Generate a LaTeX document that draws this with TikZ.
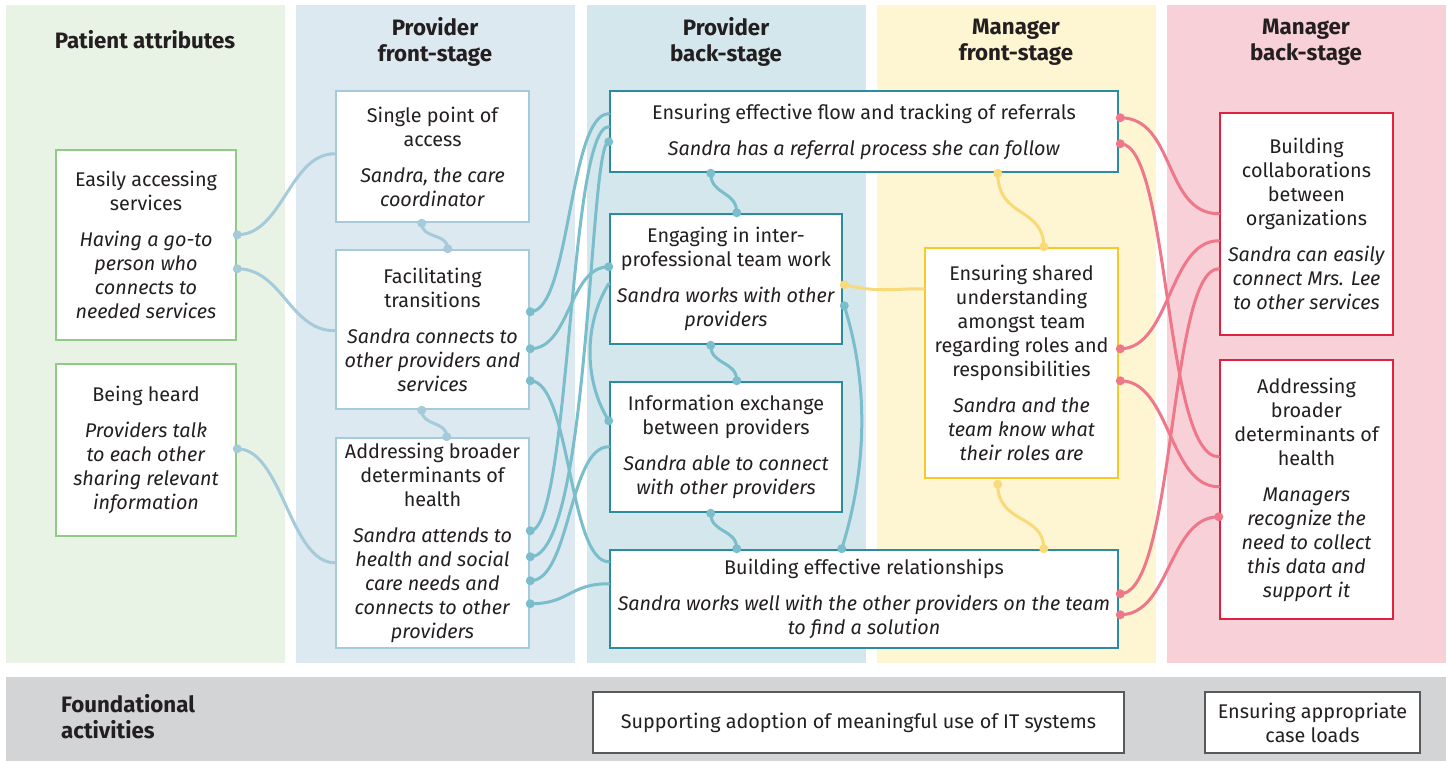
\documentclass[tikz,border=0pt]{standalone}
\usepackage{fontspec}
\setmainfont{Fira Sans}
\usetikzlibrary{calc}
\definecolor{bggreen}{HTML}{E8F3E5}
\definecolor{bgfront}{HTML}{DDE9F0}
\definecolor{bgback}{HTML}{D3E7ED}
\definecolor{bgmfront}{HTML}{FEF5D2}
\definecolor{bgmback}{HTML}{F8D0D7}
\definecolor{bggray}{HTML}{D3D4D6}
\definecolor{bdgreen}{HTML}{8FCB85}
\definecolor{bdfront}{HTML}{A5CADA}
\definecolor{bdback}{HTML}{2A8C9E}
\definecolor{bdmfront}{HTML}{F6C928}
\definecolor{bdmback}{HTML}{E0223F}
\definecolor{bdgray}{HTML}{58595B}
\definecolor{cnfront}{HTML}{A5CADA}
\definecolor{cnback}{HTML}{7ABDCB}
\definecolor{cnmfront}{HTML}{F8DB78}
\definecolor{cnmback}{HTML}{EE7789}
\definecolor{txt}{HTML}{231F20}
\newcommand{\bodyfnt}{\fontsize{19.8}{24}\selectfont}
\newcommand{\headfnt}{\fontsize{22.3}{26}\selectfont\bfseries}
\newcommand{\dotat}[2]{\fill[#1] (#2) circle[radius=4.5];}
\begin{document}
\begin{tikzpicture}[x=1pt,y=-1pt,
  box/.style={draw, line width=2.5pt, fill=white, align=center, inner sep=0pt, font=\bodyfnt, text=txt},
  head/.style={align=center, font=\headfnt, inner sep=0pt, text=txt},
  con/.style={line width=3pt, line cap=round},
]
\useasboundingbox (0,0) rectangle (1447,761);
\fill[white] (0,0) rectangle (1447,761);
% columns
\fill[bggreen] (6,5) rectangle (285,663);
\fill[bgfront] (296,5) rectangle (575,663);
\fill[bgback] (587,5) rectangle (866,663);
\fill[bgmfront] (877,5) rectangle (1156,663);
\fill[bgmback] (1167,5) rectangle (1446,663);
\fill[bggray] (6,677) rectangle (1446,761);
% headings
\node[head] (h1) at (145,40) {Patient attributes};
\node[head] (h2) at (435,42) {Provider\\front-stage};
\node[head] (h3) at (726,42) {Provider\\back-stage};
\node[head] (h4) at (1016,42) {Manager\\front-stage};
\node[head] (h5) at (1306,42) {Manager\\back-stage};
\node[head, align=left, anchor=west] (h6) at (61,717) {Foundational\\activities};
% patient boxes
\node[box, draw=bdgreen, minimum width=180, minimum height=190] (A1) at (146,245)
 {Easily accessing\\services\\[12pt]\textit{Having a go-to}\\\textit{person who}\\\textit{connects to}\\\textit{needed services}};
\node[box, draw=bdgreen, minimum width=180, minimum height=172] (A2) at (146,450)
 {Being heard\\[12pt]\textit{Providers talk}\\\textit{to each other}\\\textit{sharing relevant}\\\textit{information}};
% provider front
\node[box, draw=bdfront, minimum width=193, minimum height=131] (F1) at (432.5,156.5)
 {Single point of\\access\\[12pt]\textit{Sandra, the care}\\\textit{coordinator}};
\node[box, draw=bdfront, minimum width=193, minimum height=159] (F2) at (432.5,329.5)
 {Facilitating\\transitions\\[12pt]\textit{Sandra connects to}\\\textit{other providers and}\\\textit{services}};
\node[box, draw=bdfront, minimum width=193, minimum height=210] (F3) at (432.5,543)
 {Addressing broader\\determinants of\\health\\[12pt]\textit{Sandra attends to}\\\textit{health and social}\\\textit{care needs and}\\\textit{connects to other}\\\textit{providers}};
% provider back
\node[box, draw=bdback, minimum width=508, minimum height=81] (B1) at (864,131.5)
 {Ensuring effective flow and tracking of referrals\\[12pt]\textit{Sandra has a referral process she can follow}};
\node[box, draw=bdback, minimum width=232, minimum height=130] (B2) at (726,279)
 {Engaging in inter-\\professional team work\\[12pt]\textit{Sandra works with other}\\\textit{providers}};
\node[box, draw=bdback, minimum width=232, minimum height=130] (B3) at (726,447)
 {Information exchange\\between providers\\[12pt]\textit{Sandra able to connect}\\\textit{with other providers}};
\node[box, draw=bdback, minimum width=508, minimum height=98] (B4) at (864,599)
 {Building effective relationships\\[12pt]\textit{Sandra works well with the other providers on the team}\\\textit{to find a solution}};
% manager front
\node[box, draw=bdmfront, minimum width=193, minimum height=230] (M1) at (1021.5,363)
 {Ensuring shared\\understanding\\amongst team\\regarding roles and\\responsibilities\\[12pt]\textit{Sandra and the}\\\textit{team know what}\\\textit{their roles are}};
% manager back
\node[box, draw=bdmback, minimum width=173, minimum height=222] (R1) at (1306.5,224)
 {Building\\collaborations\\between\\organizations\\[12pt]\textit{Sandra can easily}\\\textit{connect Mrs. Lee}\\\textit{to other services}};
\node[box, draw=bdmback, minimum width=173, minimum height=259] (R2) at (1306.5,489.5)
 {Addressing\\broader\\determinants of\\health\\[12pt]\textit{Managers}\\\textit{recognize the}\\\textit{need to collect}\\\textit{this data and}\\\textit{support it}};
% foundational
\node[box, draw=bdgray, minimum width=531, minimum height=61] (S1) at (858.5,722.5)
 {Supporting adoption of meaningful use of IT systems};
\node[box, draw=bdgray, minimum width=215, minimum height=61] (S2) at (1312.5,722.5)
 {Ensuring appropriate\\case loads};

% ---------- connectors: patient -> provider front
\coordinate (pa1) at ($(A1.north east)+(0,86)$);
\coordinate (pa2) at ($(A1.north east)+(0,120)$);
\coordinate (pa3) at ($(A2.north east)+(0,86)$);
\coordinate (pf1) at ($(F1.north west)+(0,64)$);
\coordinate (pf2) at ($(F2.north west)+(0,82)$);
\coordinate (pf3) at ($(F3.north west)+(0,126)$);
\coordinate (f1b) at ($(F1.south west)+(87,0)$);
\coordinate (f2t) at ($(F2.north west)+(113,0)$);
\coordinate (f2b) at ($(F2.south west)+(87,0)$);
\coordinate (f3t) at ($(F3.north west)+(112,0)$);
\begin{scope}[cnfront]
\draw[con] (pa1) .. controls +(45,0) and +(-45,0) .. (pf1);
\draw[con] (pa2) .. controls +(45,0) and +(-45,0) .. (pf2);
\draw[con] (pa3) .. controls +(45,0) and +(-45,0) .. (pf3);
\draw[con] (f1b) .. controls +(0,16) and +(0,-16) .. (f2t);
\draw[con] (f2b) .. controls +(0,16) and +(0,-16) .. (f3t);
\dotat{cnfront}{pa1}\dotat{cnfront}{pa2}\dotat{cnfront}{pa3}
\dotat{cnfront}{f1b}\dotat{cnfront}{f2t}\dotat{cnfront}{f2b}\dotat{cnfront}{f3t}
\end{scope}

% ---------- connectors: provider front -> provider back
\coordinate (fa) at ($(F2.north east)+(0,63)$);
\coordinate (fb) at ($(F2.north east)+(0,100)$);
\coordinate (fc) at ($(F2.north east)+(0,132)$);
\coordinate (fd) at ($(F3.north east)+(0,94)$);
\coordinate (fe) at ($(F3.north east)+(0,120)$);
\coordinate (fg) at ($(F3.north east)+(0,144)$);
\coordinate (fh) at ($(F3.north east)+(0,167)$);
\coordinate (ba) at ($(B1.north west)+(0,24)$);
\coordinate (bd) at ($(B1.north west)+(0,37)$);
\coordinate (be) at ($(B1.north west)+(0,52)$);
\coordinate (bb) at ($(B2.north west)+(0,54)$);
\coordinate (bf) at ($(B2.north west)+(0,71)$);
\coordinate (bf2) at ($(B3.north west)+(0,40)$);
\coordinate (bg) at ($(B3.north west)+(0,66)$);
\coordinate (bc) at ($(B4.north west)+(0,13)$);
\coordinate (bh) at ($(B4.north west)+(0,35)$);
\coordinate (b1b) at ($(B1.south west)+(102,0)$);
\coordinate (b2t) at ($(B2.north west)+(128,0)$);
\coordinate (b2b) at ($(B2.south west)+(102,0)$);
\coordinate (b3t) at ($(B3.north west)+(128,0)$);
\coordinate (b3b) at ($(B3.south west)+(102,0)$);
\coordinate (b4t) at ($(B4.north west)+(128,0)$);
\coordinate (b2r) at ($(B2.north east)+(1,93)$);
\coordinate (b4t2) at ($(B4.north west)+(233,0)$);
\begin{scope}[cnback]
\draw[con] (fa) .. controls +(40,0) and +(-40,0) .. (ba);
\draw[con] (fb) .. controls +(40,0) and +(-40,0) .. (bb);
\draw[con] (fc) .. controls +(40,0) and +(-40,0) .. (bc);
\draw[con] (fd) .. controls +(40,0) and +(-40,0) .. (bd);
\draw[con] (fe) .. controls +(60,0) and +(-20,0) .. (be);
\draw[con] (bf) .. controls +(-25,40) and +(-25,-40) .. (bf2);
\draw[con] (fg) .. controls +(40,0) and +(-40,0) .. (bg);
\draw[con] (fh) .. controls +(40,0) and +(-40,0) .. (bh);
\draw[con] (b1b) .. controls +(0,22) and +(0,-22) .. (b2t);
\draw[con] (b2b) .. controls +(0,20) and +(0,-20) .. (b3t);
\draw[con] (b3b) .. controls +(0,20) and +(0,-20) .. (b4t);
\draw[con] (b2r) .. controls +(25,80) and +(25,-80) .. (b4t2);
\foreach \p in {fa,fb,fc,fd,fe,fg,fh,bb,be,bf2,b1b,b2t,b2b,b3t,b3b,b4t,b2r,b4t2}{\dotat{cnback}{\p}}
\end{scope}

% ---------- connectors: manager front (yellow)
\coordinate (ym1) at ($(B1.south west)+(389,0)$);
\coordinate (ym2) at ($(M1.north west)+(120,0)$);
\coordinate (yn1) at ($(B2.north east)+(1,72)$);
\coordinate (yn2) at ($(M1.north west)+(0,42)$);
\coordinate (yo1) at ($(M1.south west)+(74,5)$);
\coordinate (yo2) at ($(B4.north west)+(435,0)$);
\begin{scope}[cnmfront]
\draw[con] (ym1) .. controls +(0,45) and +(0,-40) .. (ym2);
\draw[con] (yn1) .. controls +(35,8) and +(-35,0) .. (yn2);
\draw[con] (yo1) .. controls +(0,40) and +(0,-35) .. (yo2);
\foreach \p in {ym1,ym2,yn1,yo1,yo2}{\dotat{cnmfront}{\p}}
\end{scope}

% ---------- connectors: manager back (pink)
\coordinate (rp1) at ($(B1.north east)+(1,28)$);
\coordinate (rq1) at ($(B1.north east)+(1,54)$);
\coordinate (rr1) at ($(M1.north east)+(1,102)$);
\coordinate (rs1) at ($(M1.north east)+(1,134)$);
\coordinate (rt1) at ($(B4.north east)+(1,45)$);
\coordinate (ru1) at ($(B4.north east)+(1,66)$);
\coordinate (rp2) at ($(R1.north west)+(0,102)$);
\coordinate (rr2) at ($(R1.north west)+(0,129)$);
\coordinate (rt2) at ($(R1.north west)+(0,157)$);
\coordinate (rq2) at ($(R2.north west)+(0,98)$);
\coordinate (rs2) at ($(R2.north west)+(0,128)$);
\coordinate (ru2) at ($(R2.north west)+(0,158)$);
\begin{scope}[cnmback]
\draw[con] (rp1) .. controls +(55,0) and +(-55,0) .. (rp2);
\draw[con] (rq1) .. controls +(50,0) and +(-55,0) .. (rq2);
\draw[con] (rr1) .. controls +(50,0) and +(-50,0) .. (rr2);
\draw[con] (rs1) .. controls +(50,0) and +(-50,0) .. (rs2);
\draw[con] (rt1) .. controls +(55,0) and +(-50,0) .. (rt2);
\draw[con] (ru1) .. controls +(50,0) and +(-50,0) .. (ru2);
\foreach \p in {rp1,rq1,rr1,rs1,rt1,ru1,ru2}{\dotat{cnmback}{\p}}
\end{scope}
\end{tikzpicture}
\end{document}
